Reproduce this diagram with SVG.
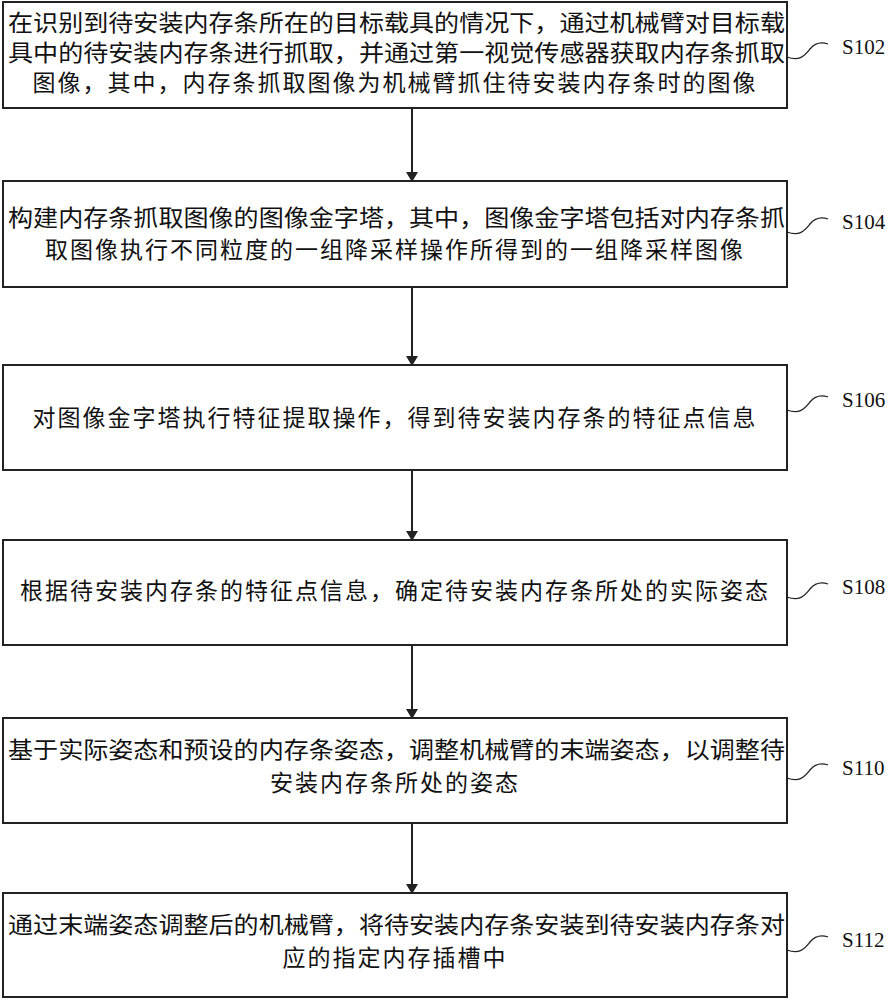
<svg xmlns="http://www.w3.org/2000/svg" width="895" height="1000" viewBox="0 0 895 1000">
<style>
.b{fill:#fff;stroke:#222;stroke-width:2}
.t{font-family:"Liberation Serif","Noto Sans CJK SC",serif;font-size:23px;fill:#111}
.l{font-family:"Liberation Serif",serif;font-size:21px;fill:#111}
.c{fill:none;stroke:#222;stroke-width:1.3}
.a{stroke:#222;stroke-width:2;marker-end:url(#ar)}
</style>
<defs><marker id="ar" markerWidth="10" markerHeight="12" refX="9" refY="6" orient="auto" markerUnits="userSpaceOnUse"><path d="M0,0L10,6L0,12Z" fill="#222"/></marker></defs>
<rect width="895" height="1000" fill="#fff"/>
<g id="n1"><rect class="b" x="3" y="2" width="784" height="106"/>
<text class="t" x="8" y="31" textLength="777" lengthAdjust="spacingAndGlyphs">在识别到待安装内存条所在的目标载具的情况下，通过机械臂对目标载</text>
<text class="t" x="8" y="61" textLength="777" lengthAdjust="spacingAndGlyphs">具中的待安装内存条进行抓取，并通过第一视觉传感器获取内存条抓取</text>
<text class="t" x="395" y="91" text-anchor="middle" letter-spacing="2">图像，其中，内存条抓取图像为机械臂抓住待安装内存条时的图像</text></g>
<g id="n2"><rect class="b" x="3" y="181" width="784" height="106"/>
<text class="t" x="8" y="226" textLength="777" lengthAdjust="spacingAndGlyphs">构建内存条抓取图像的图像金字塔，其中，图像金字塔包括对内存条抓</text>
<text class="t" x="395" y="258" text-anchor="middle" letter-spacing="2">取图像执行不同粒度的一组降采样操作所得到的一组降采样图像</text></g>
<g id="n3"><rect class="b" x="3" y="365" width="784" height="105"/>
<text class="t" x="395" y="426" text-anchor="middle" letter-spacing="2">对图像金字塔执行特征提取操作，得到待安装内存条的特征点信息</text></g>
<g id="n4"><rect class="b" x="3" y="540" width="784" height="105"/>
<text class="t" x="395" y="599" text-anchor="middle" letter-spacing="2">根据待安装内存条的特征点信息，确定待安装内存条所处的实际姿态</text></g>
<g id="n5"><rect class="b" x="3" y="718" width="784" height="105"/>
<text class="t" x="8" y="758" textLength="777" lengthAdjust="spacingAndGlyphs">基于实际姿态和预设的内存条姿态，调整机械臂的末端姿态，以调整待</text>
<text class="t" x="395" y="791" text-anchor="middle" letter-spacing="2">安装内存条所处的姿态</text></g>
<g id="n6"><rect class="b" x="3" y="893" width="784" height="104"/>
<text class="t" x="8" y="933" textLength="777" lengthAdjust="spacingAndGlyphs">通过末端姿态调整后的机械臂，将待安装内存条安装到待安装内存条对</text>
<text class="t" x="395" y="966" text-anchor="middle" letter-spacing="2">应的指定内存插槽中</text></g>
<g id="connectors">
<line class="a" x1="412" y1="108" x2="412" y2="181"/>
<line class="a" x1="412" y1="287" x2="412" y2="365"/>
<line class="a" x1="412" y1="470" x2="412" y2="540"/>
<line class="a" x1="412" y1="645" x2="412" y2="718"/>
<line class="a" x1="412" y1="823" x2="412" y2="893"/>
</g>
<g id="labels">
<path class="c" d="M787,57 C800,62 805,55 810,49 C815,43 822,42 828,44"/><text class="l" x="842" y="54">S102</text>
<path class="c" d="M787,232 C800,237 805,230 810,224 C815,218 822,217 828,219"/><text class="l" x="842" y="229">S104</text>
<path class="c" d="M787,410 C800,415 805,408 810,402 C815,396 822,395 828,397"/><text class="l" x="842" y="407">S106</text>
<path class="c" d="M787,597 C800,602 805,595 810,589 C815,583 822,582 828,584"/><text class="l" x="842" y="594">S108</text>
<path class="c" d="M787,778 C800,783 805,776 810,770 C815,764 822,763 828,765"/><text class="l" x="842" y="775">S110</text>
<path class="c" d="M787,950 C800,955 805,948 810,942 C815,936 822,935 828,937"/><text class="l" x="842" y="947">S112</text>
</g>
</svg>
